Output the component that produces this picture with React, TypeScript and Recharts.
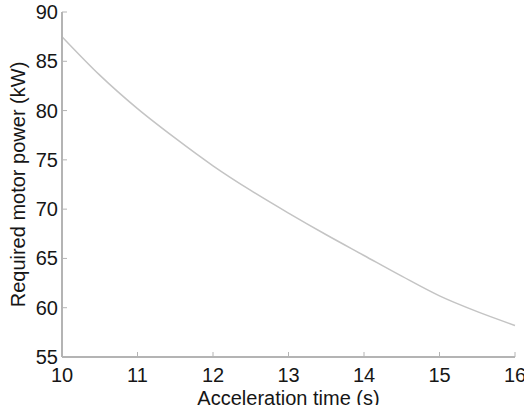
import React from 'react';
import { LineChart, Line, XAxis, YAxis } from 'recharts';

const times = [10, 10.5, 11, 11.5, 12, 12.5, 13, 13.5, 14, 14.5, 15, 15.5, 16];
const power = [87.5, 83.6, 80.2, 77.2, 74.4, 71.9, 69.6, 67.4, 65.3, 63.2, 61.2, 59.6, 58.2];
const xTicks = [10, 11, 12, 13, 14, 15, 16];
const yTicks = [55, 60, 65, 70, 75, 80, 85, 90];
const xLabel = 'Acceleration time (s)';
const yLabel = 'Required motor power (kW)';

const data = times.map((t, i) => ({ t, p: power[i] }));

const FONT = '"Liberation Sans", Arial, Helvetica, sans-serif';
const TEXT = '#161616';
const AXIS = '#b4b4b4';
const TICKLEN = 5;
const PLOT_TOP = 12;
const PLOT_H = 345;
const PLOT_LEFT = 62;
const PLOT_W = 453;

const BottomTick = (props: any) => {
  const { x, y, payload } = props;
  return (
    <g>
      <line x1={x} y1={y} x2={x} y2={y - TICKLEN} stroke={AXIS} strokeWidth={1} />
      <text x={x} y={y + 25} textAnchor="middle" fontFamily={FONT} fontSize={20} fill={TEXT}>
        {payload.value}
      </text>
    </g>
  );
};

const TopTick = (props: any) => {
  const { x, y } = props;
  return <line x1={x} y1={y} x2={x} y2={y + TICKLEN} stroke={AXIS} strokeWidth={1} />;
};

const LeftTick = (props: any) => {
  const { x, y, payload } = props;
  return (
    <g>
      <line x1={x} y1={y} x2={x + TICKLEN} y2={y} stroke={AXIS} strokeWidth={1} />
      <text x={x - 4} y={y + 7} textAnchor="end" fontFamily={FONT} fontSize={20} fill={TEXT}>
        {payload.value}
      </text>
    </g>
  );
};

const RightTick = (props: any) => {
  const { x, y } = props;
  return <line x1={x} y1={y} x2={x - TICKLEN} y2={y} stroke={AXIS} strokeWidth={1} />;
};

const XLabel = () => (
  <text x={PLOT_LEFT + PLOT_W / 2} y={PLOT_TOP + PLOT_H + 48} textAnchor="middle" fontFamily={FONT} fontSize={20} fill={TEXT}>
    {xLabel}
  </text>
);

const YLabel = () => {
  const cx = 18;
  const cy = PLOT_TOP + PLOT_H / 2;
  return (
    <text
      x={cx}
      y={cy}
      transform={`rotate(-90 ${cx} ${cy})`}
      textAnchor="middle"
      dominantBaseline="central"
      fontFamily={FONT}
      fontSize={20}
      fill={TEXT}
    >
      {yLabel}
    </text>
  );
};

export default function App() {
  return (
    <div style={{ position: 'absolute', left: 0, top: 0, width: 524, height: 405, background: '#fff' }}>
      <LineChart width={524} height={405} data={data} margin={{ top: PLOT_TOP, right: 9, bottom: 0, left: 0 }}>
        <XAxis
          xAxisId="b"
          dataKey="t"
          type="number"
          domain={[10, 16]}
          ticks={xTicks}
          orientation="bottom"
          height={48}
          tickSize={0}
          tickMargin={0}
          tickLine={false}
          axisLine={{ stroke: AXIS, strokeWidth: 2 }}
          tick={<BottomTick />}
          label={{ content: <XLabel /> }}
          interval={0}
        />
        <XAxis
          xAxisId="t"
          dataKey="t"
          type="number"
          domain={[10, 16]}
          ticks={xTicks}
          orientation="top"
          height={0}
          tickSize={0}
          tickMargin={0}
          tickLine={false}
          axisLine={{ stroke: AXIS, strokeWidth: 2 }}
          tick={<TopTick />}
          interval={0}
        />
        <YAxis
          yAxisId="l"
          type="number"
          domain={[55, 90]}
          ticks={yTicks}
          orientation="left"
          width={PLOT_LEFT}
          tickSize={0}
          tickMargin={0}
          tickLine={false}
          axisLine={{ stroke: AXIS, strokeWidth: 2 }}
          tick={<LeftTick />}
          label={{ content: <YLabel /> }}
          interval={0}
        />
        <YAxis
          yAxisId="r"
          type="number"
          domain={[55, 90]}
          ticks={yTicks}
          orientation="right"
          width={0}
          tickSize={0}
          tickMargin={0}
          tickLine={false}
          axisLine={{ stroke: AXIS, strokeWidth: 2 }}
          tick={<RightTick />}
          interval={0}
        />
        <Line
          xAxisId="b"
          yAxisId="l"
          type="monotone"
          dataKey="p"
          stroke="#c4c4c4"
          strokeWidth={1.5}
          dot={false}
          isAnimationActive={false}
        />
      </LineChart>
    </div>
  );
}
